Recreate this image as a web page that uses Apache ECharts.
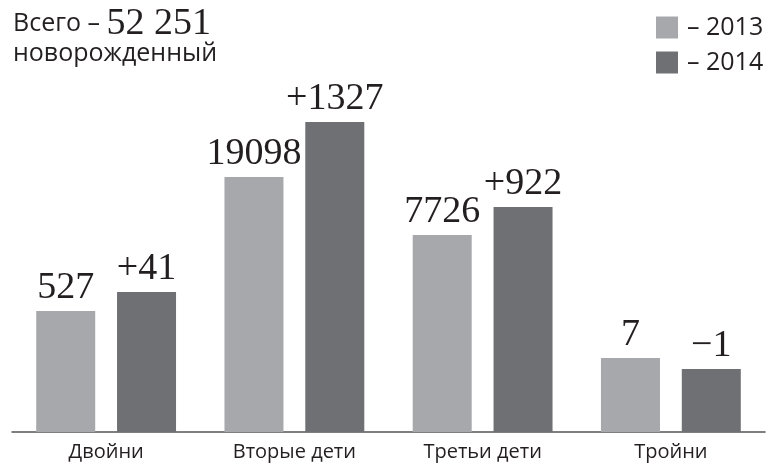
<!DOCTYPE html>
<html>
<head>
<meta charset="utf-8">
<script src="https://cdn.jsdelivr.net/npm/echarts@6/dist/echarts.min.js"></script>
<style>html,body{margin:0;padding:0;background:#fff}#c{width:770px;height:467px}</style>
</head>
<body>
<div id="c"></div>
<script>
const categories = ['Двойни', 'Вторые дети', 'Третьи дети', 'Тройни'];
const seriesNames = ['– 2013', '– 2014'];
// Displayed figures
const labels2013 = ['527', '19098', '7726', '7'];
const labels2014 = ['+41', '+1327', '+922', '\u22121'];
// Bar heights as drawn in the infographic (not proportional to the figures)
const heights2013 = [121, 255, 197, 74];
const heights2014 = [140, 310, 225, 63];
const totalText = '52 251';

const c2013 = '#a7a8ab';
const c2014 = '#6f7074';
const textColor = '#231f20';
const serif = '"Liberation Serif", "DejaVu Serif", serif';
const sans = '"Open Sans", "Noto Sans", sans-serif';

const chart = echarts.init(document.getElementById('c'));
function lbl(arr) {
  return {
    show: true, position: 'top', distance: 4,
    fontFamily: serif, fontSize: 38, color: textColor,
    formatter: p => arr[p.dataIndex]
  };
}
chart.setOption({
  animation: false,
  title: {
    left: 8, top: 4,
    text: '{a|Всего – }{b|' + totalText + '}\n{a|новорожденный}',
    textStyle: {
      fontWeight: 'normal',
      rich: {
        a: { fontFamily: sans, fontSize: 25, fontWeight: 'normal', color: textColor, lineHeight: 30 },
        b: { fontFamily: serif, fontSize: 38, fontWeight: 'normal', color: textColor, lineHeight: 30 }
      }
    }
  },
  legend: {
    orient: 'vertical', left: 651, top: 10,
    itemWidth: 22, itemHeight: 22, itemGap: 10,
    icon: 'rect',
    textStyle: { fontFamily: sans, fontSize: 25, color: textColor, padding: [0, 0, 0, 4] },
    data: seriesNames
  },
  grid: { left: 12, right: 5, top: 122, bottom: 35 },
  xAxis: {
    type: 'category', data: categories,
    axisLine: { lineStyle: { color: '#555', width: 1.5 } },
    axisTick: { show: false },
    axisLabel: { fontFamily: sans, fontSize: 20, color: textColor, margin: 10 }
  },
  yAxis: { type: 'value', min: 0, max: 310, show: false, splitLine: { show: false } },
  series: [
    { name: seriesNames[0], type: 'bar', data: heights2013, itemStyle: { color: c2013 },
      barWidth: 59, barGap: '37%', label: lbl(labels2013) },
    { name: seriesNames[1], type: 'bar', data: heights2014, itemStyle: { color: c2014 },
      barWidth: 59, label: lbl(labels2014) }
  ]
});
</script>
</body>
</html>
